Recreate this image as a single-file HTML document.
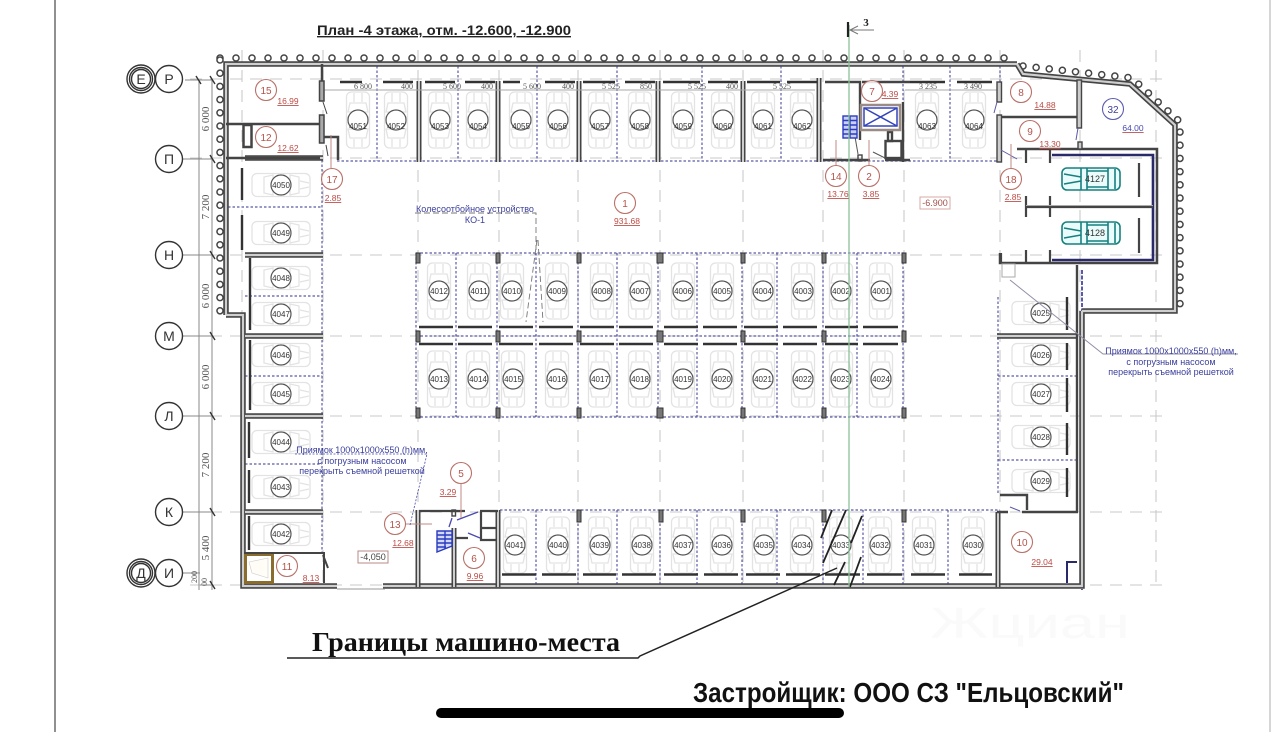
<!DOCTYPE html>
<html><head><meta charset="utf-8"><title>План -4 этажа</title>
<style>
html,body{margin:0;padding:0;background:#fff;width:1280px;height:732px;overflow:hidden}
svg{display:block;filter:blur(.35px);font-family:"Liberation Sans","Noto Sans CJK SC",sans-serif}
.n text,text.n{font-size:8px;text-anchor:middle;fill:#333}
.r{font-size:10px;text-anchor:middle;fill:#b5524a}
.a{font-size:8.5px;text-anchor:middle;fill:#bd4a44;text-decoration:underline}
.d{font-family:"Liberation Serif","Noto Serif CJK SC",serif;font-size:8px;text-anchor:middle;fill:#555}
.dv{font-family:"Liberation Serif","Noto Serif CJK SC",serif;font-size:11px;text-anchor:middle;fill:#555}
.b{font-size:9px;text-anchor:middle;fill:#3b3f9c}
.ax{font-size:14px;text-anchor:middle;fill:#333}
</style></head><body>
<svg width="1280" height="732" viewBox="0 0 1280 732" xmlns="http://www.w3.org/2000/svg">
<defs>
<g id="carv" fill="none" stroke="#e3e3e3" stroke-width="1.3">
<rect x="-11.5" y="-28" width="23" height="56" rx="5"/><path d="M-8 -17H8L10 -8H-10ZM-10 9H10L8 18H-8ZM-11 -3H11M-11 3H11M-4 -27V-18M4 -27V-18M-4 19V27M4 19V27"/>
</g>
<g id="carh" fill="none" stroke="#e3e3e3" stroke-width="1.3">
<rect x="-29" y="-11.5" width="58" height="23" rx="5"/><path d="M-17 -8V8L-8 10V-10ZM9 -10V10L18 8V-8ZM-3 -11V11M3 -11V11M19 -4L28 -2M19 4L28 2"/>
</g>
<circle id="c" r="10" fill="#fff" stroke="#555" stroke-width="1.2"/>
<g id="v"><use href="#carv"/><use href="#c"/></g>
<g id="h"><use href="#carh"/><use href="#c"/></g>
<g id="tc" fill="#e9fbfb" stroke="#17807f" stroke-width="1.6">
<rect x="-29" y="-11" width="58" height="22" rx="5"/><path fill="none" d="M-27 -5L-10 -2M-27 5L-10 2M-10 -11V11M-4 -11V11M17 -11V11M24 -10V10M-4 -8H17M-4 8H17"/>
</g>
<path id="walls" fill="none" d="M1017 64L1023 74L1130 84L1175 125V311H1082M226 315V64H1017M226 315H243V586H337M383 586H1082V311M245 158H323M245 255H323M245 336H323M245 416H323M245 512H323M997 336H1078M246 553"/>
<path id="cols" fill="none" d="M419 81V162M498 81V162M579 81V162M658 81V162M743 81V162M819 78V162M1079 80V128M418 510V587M454 528V587M498 510V587M998 512V587"/>
</defs>

<!-- page frame -->
<line x1="55" y1="0" x2="55" y2="732" stroke="#555" stroke-width="1.3"/>
<line x1="1270" y1="0" x2="1270" y2="732" stroke="#bbb" stroke-width="1.2"/>

<!-- axes -->
<g stroke="#c9c9c9" stroke-width="1.1" stroke-dasharray="12 8" fill="none">
<path d="M190 79H1170M190 158H1170M190 255H1170M190 336H1170M190 416H1170M190 512H1170M190 585H1170"/>
<path d="M242 50V590M323 50V590M418 50V590M499 50V590M578 50V590M660 50V590M743 50V590M823 50V590M904 50V590M1000 50V590M1080 50V590M1156 50V590"/>
</g>
<!-- dim lines -->
<g stroke="#888" stroke-width="1" fill="none">
<path d="M185 80H213M182 159H213M183 255H213M183 336H213M183 416H213M183 512H213M183 573H200M200 585H213M199 80V590M212 80V590"/>
</g>
<g stroke="#333" stroke-width="1.4"><path d="M196 76L201 84M210 76L215 84M210 155L215 163M210 251L215 259M210 332L215 340M210 412L215 420M210 508L215 516M210 581L215 589"/></g>
<g class="dv">
<text transform="translate(209,119) rotate(-90)">6 000</text>
<text transform="translate(209,207) rotate(-90)">7 200</text>
<text transform="translate(209,296) rotate(-90)">6 000</text>
<text transform="translate(209,377) rotate(-90)">6 000</text>
<text transform="translate(209,465) rotate(-90)">7 200</text>
<text transform="translate(209,548) rotate(-90)">5 400</text>
<text transform="translate(197,577) rotate(-90)" style="font-size:8px">200</text>
<text transform="translate(207,582) rotate(-90)" style="font-size:8px">00</text>
</g>
<!-- axis bubbles -->
<g fill="#fff" stroke="#333" stroke-width="1.4">
<circle cx="141" cy="79" r="14"/><circle cx="141" cy="79" r="11.5"/><circle cx="141" cy="79" r="9.5"/><circle cx="169" cy="79" r="13.5"/>
<circle cx="169" cy="159" r="13.5"/><circle cx="169" cy="255" r="13.5"/><circle cx="169" cy="336" r="13.5"/><circle cx="169" cy="416" r="13.5"/><circle cx="169" cy="512" r="13.5"/>
<circle cx="141" cy="573" r="14"/><circle cx="141" cy="573" r="11.5"/><circle cx="141" cy="573" r="9.5"/><circle cx="169" cy="573" r="13.5"/>
</g>
<g class="ax">
<text x="141" y="84">Е</text><text x="169" y="84">Р</text><text x="169" y="164">П</text><text x="169" y="260">Н</text><text x="169" y="341">М</text><text x="169" y="421">Л</text><text x="169" y="517">К</text><text x="141" y="578">Д</text><text x="169" y="578">И</text>
</g>

<!-- ring rows along wall -->
<g fill="none" stroke-linecap="round" stroke-dasharray="0 16">
<g stroke="#444" stroke-width="7.6"><path d="M220 58H1020"/></g><g stroke="#fff" stroke-width="4.6"><path d="M220 58H1020"/></g>
</g>
<g fill="none" stroke-linecap="round" stroke-dasharray="0 13.2">
<g stroke="#444" stroke-width="7.6"><path d="M220 60V312M1023 66L1132 78L1180 122V310"/></g>
<g stroke="#fff" stroke-width="4.6"><path d="M220 60V312M1023 66L1132 78L1180 122V310"/></g>
</g>

<!-- cars -->
<use href="#v" x="358" y="120"/><use href="#v" x="396" y="120"/><use href="#v" x="440" y="120"/><use href="#v" x="478" y="120"/><use href="#v" x="521" y="120"/><use href="#v" x="558" y="120"/><use href="#v" x="600" y="120"/><use href="#v" x="640" y="120"/><use href="#v" x="683" y="120"/><use href="#v" x="723" y="120"/><use href="#v" x="763" y="120"/><use href="#v" x="802" y="120"/><use href="#v" x="927" y="120"/><use href="#v" x="974" y="120"/>
<use href="#v" x="439" y="291"/><use href="#v" x="479" y="291"/><use href="#v" x="512" y="291"/><use href="#v" x="557" y="291"/><use href="#v" x="602" y="291"/><use href="#v" x="640" y="291"/><use href="#v" x="683" y="291"/><use href="#v" x="722" y="291"/><use href="#v" x="763" y="291"/><use href="#v" x="803" y="291"/><use href="#v" x="841" y="291"/><use href="#v" x="881" y="291"/>
<use href="#v" x="439" y="379"/><use href="#v" x="478" y="379"/><use href="#v" x="513" y="379"/><use href="#v" x="557" y="379"/><use href="#v" x="600" y="379"/><use href="#v" x="640" y="379"/><use href="#v" x="683" y="379"/><use href="#v" x="722" y="379"/><use href="#v" x="763" y="379"/><use href="#v" x="803" y="379"/><use href="#v" x="841" y="379"/><use href="#v" x="881" y="379"/>
<use href="#v" x="515" y="545"/><use href="#v" x="558" y="545"/><use href="#v" x="600" y="545"/><use href="#v" x="642" y="545"/><use href="#v" x="683" y="545"/><use href="#v" x="722" y="545"/><use href="#v" x="764" y="545"/><use href="#v" x="802" y="545"/><use href="#v" x="841" y="545"/><use href="#v" x="880" y="545"/><use href="#v" x="924" y="545"/><use href="#v" x="973" y="545"/>
<use href="#h" x="281" y="185"/><use href="#h" x="281" y="233"/><use href="#h" x="281" y="278"/><use href="#h" x="281" y="314"/><use href="#h" x="281" y="355"/><use href="#h" x="281" y="394"/><use href="#h" x="281" y="442"/><use href="#h" x="281" y="487"/><use href="#h" x="281" y="534"/>
<use href="#h" x="1041" y="313"/><use href="#h" x="1041" y="355"/><use href="#h" x="1041" y="394"/><use href="#h" x="1041" y="437"/><use href="#h" x="1041" y="481"/>
<g class="n">
<text x="358" y="129">4051</text><text x="396" y="129">4052</text><text x="440" y="129">4053</text><text x="478" y="129">4054</text><text x="521" y="129">4055</text><text x="558" y="129">4056</text><text x="600" y="129">4057</text><text x="640" y="129">4058</text><text x="683" y="129">4059</text><text x="723" y="129">4060</text><text x="763" y="129">4061</text><text x="802" y="129">4062</text><text x="927" y="129">4063</text><text x="974" y="129">4064</text>
<text x="439" y="294">4012</text><text x="479" y="294">4011</text><text x="512" y="294">4010</text><text x="557" y="294">4009</text><text x="602" y="294">4008</text><text x="640" y="294">4007</text><text x="683" y="294">4006</text><text x="722" y="294">4005</text><text x="763" y="294">4004</text><text x="803" y="294">4003</text><text x="841" y="294">4002</text><text x="881" y="294">4001</text>
<text x="439" y="382">4013</text><text x="478" y="382">4014</text><text x="513" y="382">4015</text><text x="557" y="382">4016</text><text x="600" y="382">4017</text><text x="640" y="382">4018</text><text x="683" y="382">4019</text><text x="722" y="382">4020</text><text x="763" y="382">4021</text><text x="803" y="382">4022</text><text x="841" y="382">4023</text><text x="881" y="382">4024</text>
<text x="515" y="548">4041</text><text x="558" y="548">4040</text><text x="600" y="548">4039</text><text x="642" y="548">4038</text><text x="683" y="548">4037</text><text x="722" y="548">4036</text><text x="764" y="548">4035</text><text x="802" y="548">4034</text><text x="841" y="548">4033</text><text x="880" y="548">4032</text><text x="924" y="548">4031</text><text x="973" y="548">4030</text>
<text x="281" y="188">4050</text><text x="281" y="236">4049</text><text x="281" y="281">4048</text><text x="281" y="317">4047</text><text x="281" y="358">4046</text><text x="281" y="397">4045</text><text x="281" y="445">4044</text><text x="281" y="490">4043</text><text x="281" y="537">4042</text>
<text x="1041" y="316">4025</text><text x="1041" y="358">4026</text><text x="1041" y="397">4027</text><text x="1041" y="440">4028</text><text x="1041" y="484">4029</text>
</g>

<!-- dotted boundaries -->
<g fill="none" stroke="#5a5aa8" stroke-width="1.2" stroke-dasharray="2.5 2">
<path d="M337 161H1000M377 66V161M458 66V161M537 66V161M617 66V161M702 66V161M781 66V161M903 66V161M950 66V161M1000 66V100"/>
<path d="M416 253H905M416 336H905M416 417H905M416 253V417M456 253V417M497 253V417M536 253V417M578 253V417M617 253V417M658 253V417M697 253V417M742 253V417M777 253V417M823 253V417M857 253V417M903 253V417"/>
<path d="M322 160V553M228 207H322M245 296H322M245 376H322M245 464H322"/>
<path d="M500 510H1000M536 510V586M578 510V586M617 510V586M660 510V586M697 510V586M742 510V586M777 510V586M823 510V586M863 510V586M903 510V586M948 510V586"/>
<path d="M998 297V494M998 376H1078M998 460H1078"/>
</g>
<line x1="1082" y1="270" x2="1082" y2="590" stroke="#5a5aa8" stroke-width="2" stroke-dasharray="4 1.5"/>

<!-- walls -->
<use href="#walls" stroke="#444" stroke-width="5.5"/><use href="#walls" stroke="#cfcfcf" stroke-width="2.2"/>
<use href="#cols" stroke="#444" stroke-width="5"/><use href="#cols" stroke="#ddd" stroke-width="1.8"/>
<line x1="337" y1="589" x2="385" y2="589" stroke="#999"/>

<!-- top-row thick bars & dim -->
<g stroke="#333" stroke-width="2.4" fill="none">
<path d="M340 82H362M383 82H413M425 82H455M465 82H495M503 82H520M545 82H575M583 82H615M625 82H655M663 82H700M708 82H738M747 82H780M787 82H817M910 82H945M957 82H992"/>
<path d="M419 327H453M458 327H492M499 327H533M539 327H573M580 327H614M619 327H653M664 327H698M703 327H737M744 327H778M783 327H817M825 327H858M863 327H898"/>
<path d="M419 344H453M458 344H492M499 344H533M539 344H573M580 344H614M619 344H653M664 344H698M703 344H737M744 344H778M783 344H817M825 344H858M863 344H898"/>
<path d="M502 574.500H536M542 574.500H576M583 574.500H616M622 574.500H656M664 574.500H698M704 574.500H738M746 574.500H780M786 574.500H820M825 574.500H860M867 574.500H902M911 574.500H945M959 574.500H992"/>
<path d="M242 168V200M242 215V250M250 258V330M250 340V410M249 422V458M249 470V503M249 516V550M1067 297V330M1067 343V370M1067 378V412M1067 423V455M1067 468V497"/>
</g>
<line x1="324" y1="90" x2="815" y2="90" stroke="#aaa"/><line x1="905" y1="90" x2="1000" y2="90" stroke="#aaa"/>
<g class="d">
<text x="363" y="89">6 800</text><text x="407" y="89">400</text><text x="452" y="89">5 600</text><text x="487" y="89">400</text><text x="532" y="89">5 600</text><text x="568" y="89">400</text><text x="611" y="89">5 525</text><text x="646" y="89">850</text><text x="697" y="89">5 525</text><text x="732" y="89">400</text><text x="782" y="89">5 525</text><text x="928" y="89">3 235</text><text x="973" y="89">3 490</text>
</g>

<!-- columns in centre block -->
<g fill="#777" stroke="#333" stroke-width="1">
<rect x="416" y="253" width="4" height="10"/><rect x="416" y="331" width="4" height="11"/><rect x="416" y="408" width="4" height="10"/>
<rect x="496" y="253" width="4" height="10"/><rect x="496" y="331" width="4" height="11"/><rect x="496" y="408" width="4" height="10"/>
<rect x="577" y="253" width="4" height="10"/><rect x="577" y="331" width="4" height="11"/><rect x="577" y="408" width="4" height="10"/>
<rect x="657" y="253" width="6" height="10"/><rect x="657" y="331" width="6" height="11"/><rect x="657" y="408" width="6" height="10"/>
<rect x="741" y="253" width="4" height="10"/><rect x="741" y="331" width="4" height="11"/><rect x="741" y="408" width="4" height="10"/>
<rect x="822" y="253" width="4" height="10"/><rect x="822" y="331" width="4" height="11"/><rect x="822" y="408" width="4" height="10"/>
<rect x="902" y="253" width="4" height="10"/><rect x="902" y="331" width="4" height="11"/><rect x="902" y="408" width="4" height="10"/>
<rect x="577" y="510" width="4" height="12"/><rect x="659" y="510" width="4" height="12"/><rect x="741" y="510" width="4" height="12"/><rect x="822" y="510" width="4" height="12"/><rect x="902" y="510" width="4" height="12"/>
</g>

<!-- upper-left rooms -->
<g fill="none" stroke="#444">
<path stroke-width="2.5" d="M226 124H320M322 64V82M226 158H320M324 137H338V160"/>
<rect x="243.500" y="125" width="8" height="22" stroke-width="2.500"/>
<rect x="319.500" y="81" width="4.500" height="20" stroke-width="1.500" fill="#aaa"/>
<rect x="319.500" y="115" width="4.500" height="28" stroke-width="1.500" fill="#aaa"/>
<path stroke-width="1" d="M323 102L327 114M326 145L328 156"/>
</g>
<!-- room 11 -->
<rect x="245.500" y="554.500" width="27" height="28" fill="#fff" stroke="#8a6d2e" stroke-width="3"/>
<path d="M249 562L268 558L268 578L252 573Z" fill="#fffdf5" stroke="#ccc" stroke-width=".6"/>
<path d="M244 553H324V583M323 555L328 568" fill="none" stroke="#444" stroke-width="2"/>

<!-- core: lift & stair -->
<g fill="none" stroke="#444" stroke-width="2.400">
<path d="M825 82H860V140M862 82H910M903 102V162M823 160H870M885 160H910"/>
<rect x="885.500" y="141" width="16" height="17"/><rect x="888" y="132" width="4" height="9"/>
<rect x="858" y="155" width="4" height="6" stroke-width="1.400"/>
</g>
<path d="M854 131L858 154M873 152L885 158" stroke="#555" fill="none"/>
<rect x="861" y="105" width="39" height="25" fill="none" stroke="#9a8c84" stroke-width="2.500"/>
<g fill="none" stroke="#3344bb" stroke-width="1.500">
<rect x="864" y="108" width="33" height="18"/><path d="M864 108L897 126M864 126L897 108"/>
</g>
<g fill="#c9cff5" stroke="#2a3bc0" stroke-width="1.400">
<rect x="843" y="116" width="14" height="22"/><path fill="none" d="M843 120.500H857M843 125H857M843 129.500H857M843 134H857M850 116V138"/>
</g>

<!-- right rooms -->
<g fill="none" stroke="#444" stroke-width="2.500">
<path d="M1001 117H1077M1017 149H1157V263H1000V253"/>
</g>
<g fill="#ccc" stroke="#444" stroke-width="1.400">
<rect x="997" y="82" width="4.500" height="20"/><rect x="997" y="115" width="4.500" height="47"/><rect x="1077" y="80" width="4.500" height="48"/><rect x="1078" y="142" width="4" height="7"/>
</g>
<path d="M1001 150L1017 159M1078 128L1076 140M997 102L994 113" stroke="#5a5aa8" fill="none"/>
<path d="M1052 155H1153V260H1052" fill="none" stroke="#2a2a6a" stroke-width="2.600"/>
<g fill="none" stroke="#444" stroke-width="2.200">
<path d="M1026 207H1153M1026 149V163M1050 149V163M1026 196V217M1050 196V217M1026 250V263M1050 250V263M1001 253V263"/>
<path d="M1139 163V197M1139 218V253"/>
<rect x="1002" y="264" width="13" height="13" stroke="#aaa" stroke-width="1"/>
</g>
<line x1="1026" y1="205.500" x2="1153" y2="205.500" stroke="#aaa"/>
<line x1="1077" y1="265" x2="1077" y2="512" stroke="#444" stroke-width="2.400"/>
<g transform="translate(1091,179)"><use href="#tc"/></g>
<g transform="translate(1091,233)"><use href="#tc"/></g>
<text class="n" x="1095" y="182" style="font-size:9px">4127</text>
<text class="n" x="1095" y="236" style="font-size:9px">4128</text>

<!-- room 10 -->
<g fill="none" stroke="#444" stroke-width="2.400">
<path d="M1000 495H1027V510M1022 512H1078M997 512H1008"/>
</g>
<path d="M1010 507L1020 511" stroke="#5a5aa8"/>
<path d="M1067 583V562H1077" fill="none" stroke="#2a2a6a" stroke-width="2"/>

<!-- stair room 13/5/6 -->
<g fill="none" stroke="#444" stroke-width="2.200">
<path d="M419 511H465M480 511H498M481 512V540H497M481 528H497M456 538H468"/>
<rect x="452" y="510" width="3.500" height="6" stroke-width="1.400"/>
</g>
<path d="M457 520L478 512M468 533L480 538M452 518L449 527" stroke="#4a4ab0" stroke-width="1.300" fill="none"/>
<g fill="#d5d9f8" stroke="#2a3bc0" stroke-width="1.400">
<path d="M437 531H452V546L437 552Z"/><path fill="none" d="M437 535H452M437 539H452M437 543H452M437 547H446M445 531V549"/>
</g>

<!-- diagonal marks -->
<g stroke="#222" stroke-width="1.800" fill="none">
<path d="M832 510L821 538M846 510L823 563M862 516L851 543M845 562L834 585M861 557L850 587"/>
</g>
<path d="M837 568L640 656L638 658H287" fill="none" stroke="#222" stroke-width="1.500"/>

<!-- green section line -->
<line x1="849" y1="25" x2="849" y2="587" stroke="#8abf98" stroke-width="1.300"/>
<path d="M848 22V37" stroke="#222" stroke-width="2.200"/>
<path d="M850 30H874M858 26L850 30L858 34" stroke="#777" fill="none"/>
<text x="866" y="26" font-size="11" font-weight="bold" style="font-family:'Liberation Serif',serif" fill="#222" text-anchor="middle">3</text>

<!-- leaders -->
<g stroke="#c08a86" fill="none">
<path d="M331 135V168M836 140V165M869 140V165M1011 144V168M461 484V518M406 524H432"/>
</g>
<path d="M1010 280L1103 354H1238" stroke="#8f8fa8" fill="none"/>
<path d="M295 454H427L410 525" stroke="#4a4ab0" stroke-width=".8" stroke-dasharray="2 1.500" fill="none"/>
<path d="M415 213H536V250M537 240L526 322M538 240L543 322" stroke="#777" stroke-width=".9" stroke-dasharray="6 3" fill="none"/>

<!-- room tags -->
<g fill="#fff" fill-opacity=".85" stroke="#b97068" stroke-width="1.100">
<circle cx="266" cy="90" r="10.500"/><circle cx="266" cy="137" r="10.500"/><circle cx="332" cy="179" r="10.500"/><circle cx="625" cy="203" r="10.500"/><circle cx="836" cy="176" r="10.500"/><circle cx="869" cy="176" r="10.500"/><circle cx="872" cy="91" r="10.500"/><circle cx="1021" cy="92" r="10.500"/><circle cx="1030" cy="131" r="10.500"/><circle cx="1011" cy="179" r="10.500"/><circle cx="287" cy="566" r="10.500"/><circle cx="461" cy="473" r="10.500"/><circle cx="395" cy="524" r="10.500"/><circle cx="474" cy="558" r="10.500"/><circle cx="1022" cy="542" r="10.500"/>
</g>
<circle cx="1113" cy="109" r="10.500" fill="none" stroke="#5c5cb0" stroke-width="1.100"/>
<g class="r">
<text x="266" y="94">15</text><text x="266" y="141">12</text><text x="332" y="183">17</text><text x="625" y="207">1</text><text x="836" y="180">14</text><text x="869" y="180">2</text><text x="872" y="95">7</text><text x="1021" y="96">8</text><text x="1030" y="135">9</text><text x="1011" y="183">18</text><text x="287" y="570">11</text><text x="461" y="477">5</text><text x="395" y="528">13</text><text x="474" y="562">6</text><text x="1022" y="546">10</text>
<text x="1113" y="113" style="fill:#3f3f9c">32</text>
</g>
<g class="a">
<text x="288" y="104">16.99</text><text x="288" y="151">12.62</text><text x="333" y="201">2.85</text><text x="627" y="224">931.68</text><text x="838" y="197">13.76</text><text x="871" y="197">3.85</text><text x="890" y="97">4.39</text><text x="1045" y="108">14.88</text><text x="1050" y="147">13.30</text><text x="1013" y="200">2.85</text><text x="311" y="581">8.13</text><text x="448" y="495">3.29</text><text x="403" y="546">12.68</text><text x="475" y="579">9.96</text><text x="1042" y="565">29.04</text>
<text x="1133" y="131" style="fill:#4a4ab0">64.00</text>
</g>
<rect x="920" y="197" width="30" height="12" fill="#fff" stroke="#d9a8a4"/>
<text x="935" y="206" font-size="9" text-anchor="middle" fill="#a0504a">-6.900</text>
<rect x="358" y="551" width="30" height="12" fill="#fff" stroke="#b98a86"/>
<text x="373" y="560" font-size="9" text-anchor="middle" fill="#444">-4,050</text>

<!-- blue notes -->
<g class="b">
<text x="475" y="212">Колесоотбойное устройство</text><text x="475" y="223">КО-1</text>
<text x="362" y="453">Приямок 1000х1000х550 (h)мм,</text><text x="362" y="464">с погрузным насосом</text><text x="362" y="474">перекрыть съемной решеткой</text>
<text x="1171" y="354">Приямок 1000х1000х550 (h)мм,</text><text x="1171" y="365">с погрузным насосом</text><text x="1171" y="375">перекрыть съемной решеткой</text>
</g>

<!-- titles -->
<text x="317" y="35" font-size="14" font-weight="bold" textLength="254" lengthAdjust="spacingAndGlyphs" text-decoration="underline" fill="#222">План  -4 этажа, отм. -12.600, -12.900</text>
<text x="312" y="651" font-size="27" font-weight="bold" textLength="308" lengthAdjust="spacingAndGlyphs" style="font-family:'Liberation Serif',serif" fill="#111">Границы машино-места</text>
<text x="693" y="702" font-size="28" font-weight="bold" textLength="431" lengthAdjust="spacingAndGlyphs" fill="#111">Застройщик: ООО СЗ "Ельцовский"</text>
<text x="930" y="638" font-size="44" textLength="200" lengthAdjust="spacingAndGlyphs" fill="#fafafa">Жциан</text>
<rect x="436" y="708" width="408" height="10" rx="5" fill="#000"/>
</svg>
</body></html>
